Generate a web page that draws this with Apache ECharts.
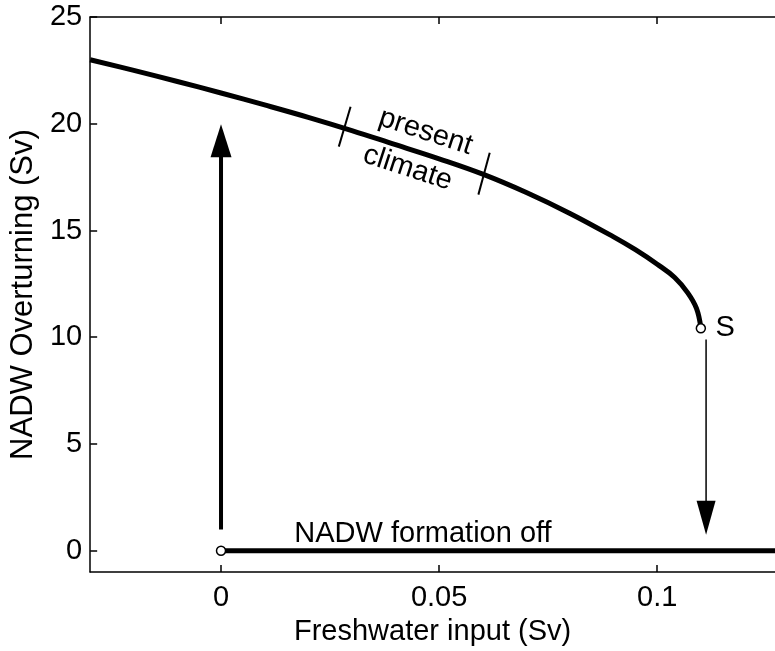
<!DOCTYPE html>
<html>
<head>
<meta charset="utf-8">
<script src="https://cdn.jsdelivr.net/npm/echarts@6/dist/echarts.min.js"></script>
<style>
  html, body { margin: 0; padding: 0; background: #fff; }
  #chart { width: 775px; height: 651px; }
</style>
</head>
<body>
<div id="chart"></div>
<script>
  // upper (NADW on) branch: [freshwater input, overturning]
  var upperBranch = [
    [-0.030, 23.00], [-0.020, 22.50], [-0.010, 21.98], [0.000, 21.44],
    [0.010, 20.88], [0.020, 20.30], [0.030, 19.68], [0.040, 19.02],
    [0.050, 18.36], [0.060, 17.64], [0.070, 16.78], [0.080, 15.80],
    [0.090, 14.70], [0.095, 14.10], [0.100, 13.42], [0.104, 12.80],
    [0.107, 12.08], [0.109, 11.35], [0.110, 10.45]
  ];
  // lower (NADW off) branch
  var lowerBranch = [[0.000, 0], [0.127, 0]];
  // open circles: start of off branch and saddle-node S
  var turnPoints = [[0.000, 0], [0.110, 10.42]];
  // arrows: shaft ends and head centres
  var upArrow = [[0.000, 1.0], [0.000, 18.8]];
  var upHead = [0.000, 19.2];
  var downArrow = [[0.1112, 9.9], [0.1112, 2.2]];
  var downHead = [0.1112, 1.55];
  // short bars bracketing "present climate"
  var climateTickA = [[0.0297, 20.80], [0.0270, 18.93]];
  var climateTickB = [[0.0616, 18.64], [0.0590, 16.68]];

  var xTicks = [0, 0.05, 0.1];
  var yTicks = [0, 5, 10, 15, 20, 25];

  var font = 'Liberation Sans, Arial, Helvetica, sans-serif';
  var fs = 29;

  var myChart = echarts.init(document.getElementById('chart'));

  function txt(x, y, text, rotate) {
    return {
      value: [x, y],
      label: {
        show: true, formatter: text, position: 'inside',
        rotate: rotate || 0, color: '#000', fontFamily: font, fontSize: fs
      }
    };
  }

  var axisLine = { show: true, onZero: false, lineStyle: { color: '#000', width: 1.5 } };
  var tickStyle = { color: '#000', width: 1.5 };

  var option = {
    animation: false,
    backgroundColor: '#fff',
    grid: { left: 90, top: 17, right: 0, bottom: 77, containLabel: false },
    xAxis: [
      {
        type: 'value', min: -0.03, max: 0.127, position: 'bottom',
        name: 'Freshwater input (Sv)', nameLocation: 'middle', nameGap: 42,
        nameTextStyle: { color: '#000', fontFamily: font, fontSize: fs },
        axisLine: axisLine,
        axisTick: { show: true, inside: true, length: 7, customValues: xTicks, lineStyle: tickStyle },
        axisLabel: { customValues: xTicks, margin: 11, color: '#000', fontFamily: font, fontSize: fs,
          formatter: function (v) { return String(+v.toFixed(2)); } },
        splitLine: { show: false }
      },
      {
        type: 'value', min: -0.03, max: 0.127, position: 'top',
        axisLine: axisLine,
        axisTick: { show: true, inside: true, length: 7, customValues: xTicks, lineStyle: tickStyle },
        axisLabel: { show: false },
        splitLine: { show: false }
      }
    ],
    yAxis: {
      type: 'value', min: -1, max: 25,
      name: 'NADW Overturning (Sv)', nameLocation: 'middle', nameGap: 50,
      nameTextStyle: { color: '#000', fontFamily: font, fontSize: 31 },
      axisLine: axisLine,
      axisTick: { show: true, inside: true, length: 7, customValues: yTicks, lineStyle: tickStyle },
      axisLabel: { customValues: yTicks, margin: 8, color: '#000', fontFamily: font, fontSize: fs },
      splitLine: { show: false }
    },
    series: [
      {
        name: 'on branch', type: 'line', data: upperBranch, smooth: 0.4,
        symbol: 'none', lineStyle: { color: '#000', width: 5 }, z: 3
      },
      {
        name: 'off branch', type: 'line', data: lowerBranch,
        symbol: 'none', lineStyle: { color: '#000', width: 5 }, z: 3
      },
      {
        name: 'up arrow', type: 'line', data: upArrow,
        symbol: 'none', lineStyle: { color: '#000', width: 4 }, z: 3
      },
      {
        name: 'down arrow', type: 'line', data: downArrow,
        symbol: 'none', lineStyle: { color: '#000', width: 1.5 }, z: 3
      },
      {
        name: 'heads', type: 'scatter',
        data: [
          { value: upHead, symbolRotate: 0, symbolSize: [21, 33] },
          { value: downHead, symbolRotate: 180, symbolSize: [19, 34] }
        ],
        symbol: 'triangle', itemStyle: { color: '#000', opacity: 1 }, z: 4
      },
      {
        name: 'tick a', type: 'line', data: climateTickA,
        symbol: 'none', lineStyle: { color: '#000', width: 2 }, z: 3
      },
      {
        name: 'tick b', type: 'line', data: climateTickB,
        symbol: 'none', lineStyle: { color: '#000', width: 2 }, z: 3
      },
      {
        name: 'points', type: 'scatter', data: turnPoints,
        symbol: 'circle', symbolSize: 9,
        itemStyle: { color: '#fff', borderColor: '#000', borderWidth: 1.5, opacity: 1 }, z: 6
      },
      {
        name: 'labels', type: 'scatter', symbolSize: 0, z: 7,
        itemStyle: { opacity: 1 },
        data: [
          txt(0.0463, 0.78, 'NADW formation off'),
          txt(0.1156, 10.45, 'S'),
          txt(0.0469, 19.62, 'present', -18),
          txt(0.0428, 17.92, 'climate', -18)
        ]
      }
    ]
  };

  myChart.setOption(option);
  window.addEventListener('resize', function () {
    myChart.resize();
  });
</script>
</body>
</html>
